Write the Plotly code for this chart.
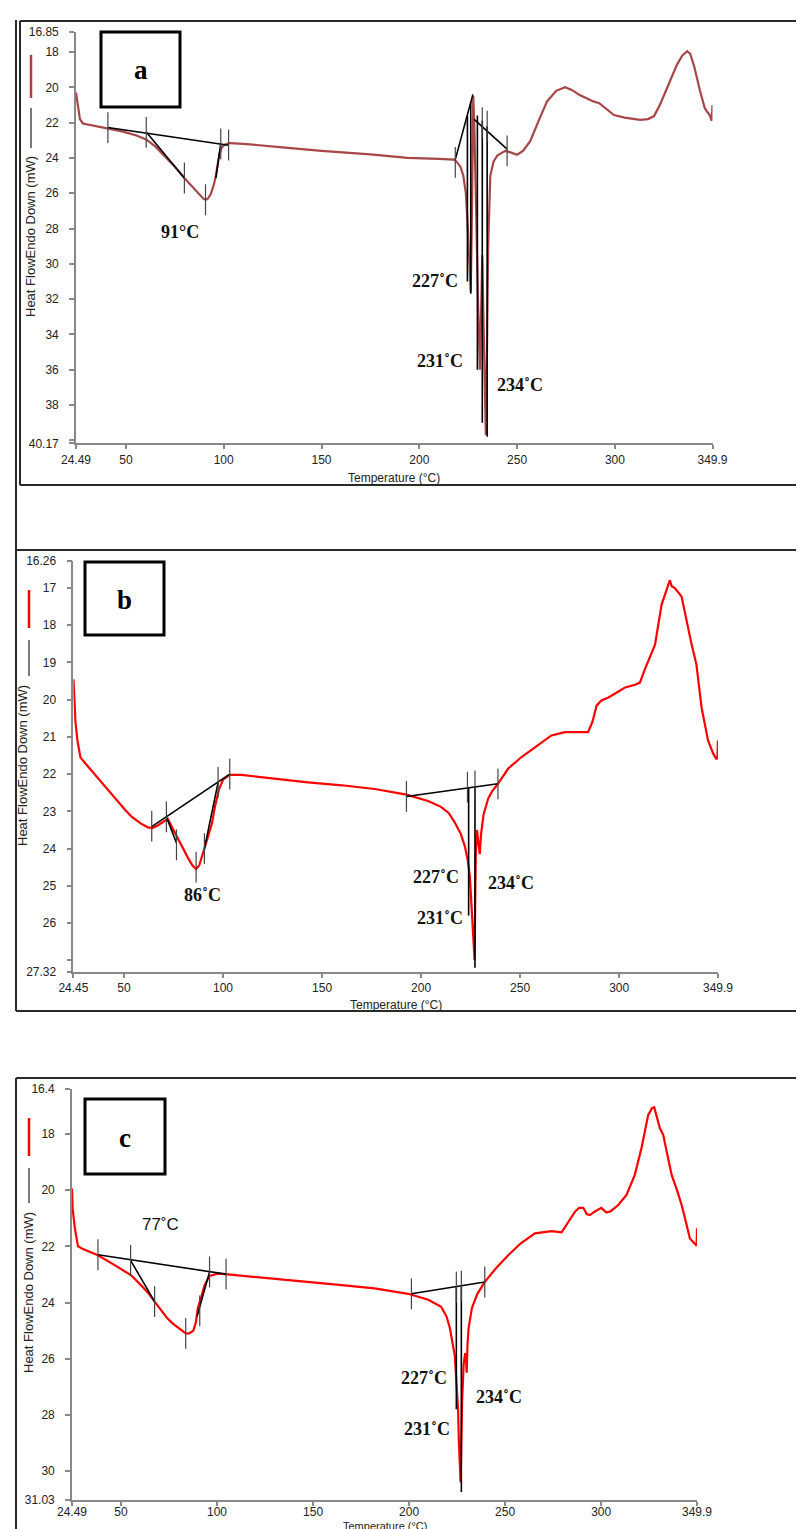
import plotly.graph_objects as go

W, H = 804, 1529

# ---------------- data ----------------
# Panel a
a_T = [24.49, 25.5, 26.5, 28.0, 31.0, 35.0, 40.8, 48.0, 55.0, 60.4, 65.0, 69.9, 75.0, 80.0, 84.0, 87.0,
       89.5, 90.7, 92.0, 93.4, 95.0, 96.0, 97.0, 97.8, 99.0, 100.5, 103.0, 110.0, 130.0, 150.0, 175.0,
       194.0, 210.0, 217.7, 219.0, 221.0, 222.5, 223.8, 224.6, 225.5, 226.3, 226.8, 227.2, 227.6, 228.2,
       229.0, 230.0, 231.0, 231.6, 232.2, 232.8, 233.5, 234.0, 234.6, 235.2, 236.3, 238.0, 240.0, 244.0,
       247.0, 250.0, 253.0, 256.7, 261.0, 265.3, 270.0, 274.5, 278.0, 282.0, 286.0, 289.0, 292.0, 294.4,
       297.0, 299.5, 305.0, 312.9, 317.0, 320.0, 323.0, 326.7, 330.0, 331.8, 334.5, 337.0, 338.5, 340.5,
       343.5, 346.0, 348.6, 349.5, 349.9]
a_v = [20.3, 21.2, 21.8, 22.05, 22.12, 22.2, 22.32, 22.5, 22.72, 22.95, 23.35, 23.9, 24.5, 25.15, 25.65, 26.05,
       26.3, 26.37, 26.3, 26.05, 25.5, 25.0, 24.3, 23.8, 23.4, 23.25, 23.16, 23.2, 23.4, 23.6, 23.8,
       24.0, 24.05, 24.1, 24.2, 24.5, 25.0, 26.0, 27.5, 30.0, 31.6, 28.0, 22.0, 20.5, 22.5,
       27.0, 32.0, 36.0, 32.0, 29.5, 33.0, 37.5, 39.7, 35.0, 29.0, 25.0, 24.2, 23.85, 23.6,
       23.7, 23.82, 23.6, 23.05, 21.9, 20.8, 20.2, 20.0, 20.15, 20.44, 20.65, 20.8, 20.9, 21.1,
       21.35, 21.57, 21.72, 21.85, 21.8, 21.63, 21.0, 20.04, 19.2, 18.7, 18.2, 17.95, 18.1, 18.8,
       20.2, 21.2, 21.6, 21.9, 21.0]
a_seg_T = [[40.8, 102.5], [60.4, 79.9], [98.5, 96.0], [218.4, 227.4], [227.9, 244.9],
           [224.6, 224.6], [226.3, 226.3], [229.7, 229.7], [232.2, 232.2], [234.7, 234.7]]
a_seg_v = [[22.28, 23.28], [22.53, 25.14], [23.17, 25.15], [24.1, 20.4], [21.8, 23.5],
           [21.6, 31.0], [20.8, 31.7], [21.6, 36.0], [21.9, 39.0], [22.2, 39.8]]
a_tick_T = [40.8, 60.4, 79.9, 90.7, 98.5, 102.5, 218.4, 232.2, 234.7, 244.9]
a_tick_v = [22.28, 22.55, 25.14, 26.37, 23.2, 23.28, 24.25, 22.0, 22.2, 23.6]
a_yticks = [16.85, 18, 20, 22, 24, 26, 28, 30, 32, 34, 36, 38, 40, 40.17]
a_ylabels = ["16.85", "18", "20", "22", "24", "26", "28", "30", "32", "34", "36", "38", "", "40.17"]
a_xticks = [24.49, 50, 100, 150, 200, 250, 300, 349.9]
a_xlabels = ["24.49", "50", "100", "150", "200", "250", "300", "349.9"]
a_peaks = ["91°C", "227˚C", "231˚C", "234˚C"]

# Panel b
b_T = [24.5, 24.8, 25.5, 26.5, 28.0, 29.5, 33.5, 38.0, 42.0, 46.0, 50.4, 54.0, 58.6, 62.0, 64.3, 67.0,
       69.5, 72.1, 74.0, 77.3, 80.0, 82.3, 84.5, 86.4, 88.0, 90.4, 92.5, 94.3, 96.0, 98.0, 100.0, 103.4,
       109.2, 125.0, 142.9, 160.0, 176.6, 192.6, 203.5, 210.0, 214.0, 217.0, 220.0, 222.1, 223.5, 224.6,
       225.4, 226.2, 226.7, 227.0, 227.3, 227.6, 228.2, 229.0, 229.6, 230.3, 231.5, 233.9, 236.0, 238.8,
       244.0, 250.7, 258.0, 265.8, 272.6, 280.0, 284.3, 286.5, 288.6, 291.0, 294.6, 299.0, 303.0, 308.0,
       310.5, 313.0, 318.1, 321.4, 323.5, 325.6, 326.5, 328.1, 331.5, 334.0, 336.5, 339.0, 341.6, 344.9,
       347.5, 349.1, 349.6, 349.9]
b_v = [19.45, 20.0, 20.6, 21.1, 21.55, 21.65, 21.9, 22.2, 22.42, 22.7, 22.95, 23.15, 23.33, 23.43, 23.45, 23.38,
       23.3, 23.2, 23.4, 23.75, 24.05, 24.25, 24.45, 24.55, 24.45, 24.05, 23.7, 23.35, 22.85, 22.4, 22.15, 22.02,
       22.02, 22.12, 22.22, 22.3, 22.4, 22.55, 22.72, 22.88, 23.05, 23.3, 23.6, 23.94, 24.3, 24.74,
       25.6, 26.5, 26.9, 27.0, 25.5, 24.2, 23.5, 23.9, 24.15, 23.6, 23.1, 22.65, 22.45, 22.26,
       21.85, 21.54, 21.25, 20.96, 20.87, 20.88, 20.87, 20.6, 20.16, 20.02, 19.94, 19.8, 19.67, 19.6,
       19.54, 19.18, 18.52, 17.45, 17.1, 16.79, 16.95, 17.0, 17.23, 17.9, 18.5, 19.05, 20.21, 21.1,
       21.45, 21.6, 21.54, 21.1]
b_seg_T = [[63.8, 103.4], [71.4, 76.5], [97.5, 90.6], [192.6, 238.8], [224.0, 224.0], [227.2, 227.2]]
b_seg_v = [[23.42, 22.0], [23.15, 23.85], [22.22, 24.0], [22.6, 22.26], [22.35, 25.8], [22.32, 27.2]]
b_tick_T = [64.0, 71.4, 76.5, 86.4, 90.6, 97.5, 103.4, 192.6, 223.4, 227.2, 238.8]
b_tick_v = [23.4, 23.15, 23.9, 24.5, 24.0, 22.22, 22.0, 22.6, 22.35, 22.32, 22.26]
b_yticks = [16.26, 17, 18, 19, 20, 21, 22, 23, 24, 25, 26, 27, 27.32]
b_ylabels = ["16.26", "17", "18", "19", "20", "21", "22", "23", "24", "25", "26", "", "27.32"]
b_xticks = [24.45, 50, 100, 150, 200, 250, 300, 349.9]
b_xlabels = ["24.45", "50", "100", "150", "200", "250", "300", "349.9"]
b_peaks = ["86˚C", "227˚C", "231˚C", "234˚C"]

# Panel c
c_T = [24.49, 24.8, 26.0, 27.6, 30.2, 38.0, 46.7, 55.3, 60.5, 64.0, 67.5, 71.0, 74.0, 77.0, 80.5, 83.7,
       85.5, 87.7, 89.0, 90.0, 91.8, 93.5, 96.1, 100.4, 105.6, 125.0, 147.3, 165.0, 182.0, 199.5, 210.0,
       216.7, 219.5, 221.2, 223.8, 224.7, 225.5, 225.9, 226.3, 226.8, 227.2, 227.6, 228.4, 229.2, 229.6,
       230.0, 230.4, 231.0, 232.7, 235.5, 239.4, 245.0, 251.6, 258.0, 265.5, 274.2, 279.4, 283.0, 286.4,
       288.5, 290.7, 292.5, 294.1, 297.0, 300.1, 302.7, 305.0, 308.9, 313.2, 317.5, 321.0, 324.5, 326.5,
       327.6, 329.0, 330.6, 332.3, 334.5, 336.7, 339.5, 341.9, 344.0, 346.2, 349.7, 349.9]
c_v = [19.94, 20.65, 21.36, 22.0, 22.1, 22.32, 22.67, 23.03, 23.39, 23.65, 23.97, 24.3, 24.55, 24.75, 24.95, 25.1,
       25.1, 25.0, 24.7, 24.2, 23.8, 23.39, 23.05, 22.97, 23.0, 23.12, 23.26, 23.38, 23.5, 23.69, 23.9,
       24.15, 24.5, 24.9, 25.9, 26.96, 27.8, 28.9, 29.9, 30.4, 29.0, 27.5, 26.2, 25.8, 26.0,
       26.5, 25.5, 24.9, 24.2, 23.7, 23.27, 22.8, 22.32, 21.9, 21.54, 21.46, 21.5, 21.1, 20.77,
       20.63, 20.63, 20.85, 20.89, 20.75, 20.63, 20.8, 20.75, 20.53, 20.17, 19.46, 18.5, 17.32, 17.08,
       17.05, 17.4, 17.8, 18.03, 18.8, 19.46, 20.0, 20.53, 21.1, 21.72, 21.98, 21.36]
c_seg_T = [[38.0, 104.7], [55.0, 67.5], [96.1, 89.6], [201.2, 239.4], [224.6, 224.6], [227.2, 227.2]]
c_seg_v = [[22.3, 22.99], [22.5, 23.97], [22.91, 24.5], [23.69, 23.27], [23.45, 27.8], [23.42, 30.75]]
c_tick_T = [38.0, 55.0, 67.5, 83.7, 91.0, 96.1, 104.7, 201.2, 224.6, 227.2, 239.4]
c_tick_v = [22.3, 22.5, 23.97, 25.1, 24.3, 22.91, 22.99, 23.69, 23.45, 23.42, 23.27]
c_yticks = [16.4, 18, 20, 22, 24, 26, 28, 30, 31.03]
c_ylabels = ["16.4", "18", "20", "22", "24", "26", "28", "30", "31.03"]
c_xticks = [24.49, 50, 100, 150, 200, 250, 300, 349.9]
c_xlabels = ["24.49", "50", "100", "150", "200", "250", "300", "349.9"]
c_peaks = ["77˚C", "227˚C", "231˚C", "234˚C"]

panel_letters = ["a", "b", "c"]
y_title = "Heat FlowEndo Down (mW)"
x_title = "Temperature (°C)"

# ---------------- layout helpers (pixel -> paper) ----------------
def px(x):
    return x / W

def py(y):
    return 1 - y / H

panels = [
    dict(T=a_T, v=a_v, segT=a_seg_T, segv=a_seg_v, tT=a_tick_T, tv=a_tick_v,
         yt=a_yticks, yl=a_ylabels, xt=a_xticks, xl=a_xlabels, peaks=a_peaks,
         xr=[24.49, 349.9], yr=[40.17, 16.85], dom_x=(68, 704.5), dom_y=(23.7, 435.3),
         color="#a84646", width=2.2,
         box=(93, 24, 172, 99), legend_x=23, red_seg=(47, 90), blk_seg=(100, 140),
         ytitle=(23, 229), xtitle=(386, 470), xtsize=12, xstand=0,
         peak_pos=[(172, 224), (427, 273), (432, 353), (512, 377)],
         peak_font=["Liberation Serif"] * 4),
    dict(T=b_T, v=b_v, segT=b_seg_T, segv=b_seg_v, tT=b_tick_T, tv=b_tick_v,
         yt=b_yticks, yl=b_ylabels, xt=b_xticks, xl=b_xlabels, peaks=b_peaks,
         xr=[24.45, 349.9], yr=[27.32, 16.26], dom_x=(65.4, 710), dom_y=(552.5, 964.1),
         color="#ff0000", width=2.2,
         box=(77, 554, 156, 627), legend_x=21, red_seg=(582, 620), blk_seg=(632, 668),
         ytitle=(15, 758), xtitle=(388, 997), xtsize=12, xstand=0,
         peak_pos=[(194, 887), (428, 869), (432, 910), (503, 875)],
         peak_font=["Liberation Serif"] * 4),
    dict(T=c_T, v=c_v, segT=c_seg_T, segv=c_seg_v, tT=c_tick_T, tv=c_tick_v,
         yt=c_yticks, yl=c_ylabels, xt=c_xticks, xl=c_xlabels, peaks=c_peaks,
         xr=[24.49, 349.9], yr=[31.03, 16.4], dom_x=(64, 689), dom_y=(1081, 1492),
         color="#ff0000", width=2.2,
         box=(77, 1091, 157, 1166), legend_x=21, red_seg=(1110, 1148), blk_seg=(1160, 1195),
         ytitle=(20, 1285), xtitle=(377, 1518), xtsize=11, xstand=-4,
         peak_pos=[(152, 1216), (416, 1370), (419, 1421), (491, 1389)],
         peak_font=["Liberation Sans"] + ["Liberation Serif"] * 3),
]

fig = go.Figure()
shapes = []
annotations = []
layout_axes = {}

for i, p in enumerate(panels):
    n = "" if i == 0 else str(i + 1)
    xa, ya = "x" + n, "y" + n
    # main curve
    fig.add_trace(go.Scatter(x=p["T"], y=p["v"], mode="lines", xaxis=xa, yaxis=ya,
                             line=dict(color=p["color"], width=p["width"]), hoverinfo="skip"))
    # construction lines
    sx, sy = [], []
    for tt, vv in zip(p["segT"], p["segv"]):
        sx += tt + [None]
        sy += vv + [None]
    fig.add_trace(go.Scatter(x=sx, y=sy, mode="lines", xaxis=xa, yaxis=ya,
                             line=dict(color="black", width=1.6), hoverinfo="skip"))
    # little vertical markers
    fig.add_trace(go.Scatter(x=p["tT"], y=p["tv"], mode="markers", xaxis=xa, yaxis=ya,
                             marker=dict(symbol="line-ns", size=22,
                                         line=dict(color="#444444", width=1.2)),
                             hoverinfo="skip"))

    axfont = dict(family="Liberation Sans, Arial", size=12, color="#222222")
    layout_axes["xaxis" + n] = dict(
        domain=[px(p["dom_x"][0]), px(p["dom_x"][1])], range=p["xr"], anchor=ya,
        tickvals=p["xt"], ticktext=p["xl"], ticks="outside", ticklen=4, tickwidth=1.5,
        tickcolor="#888888", showline=True, linecolor="#888888", linewidth=1.6,
        showgrid=False, zeroline=False, tickfont=axfont, automargin=False,
        ticklabelstandoff=p["xstand"])
    layout_axes["yaxis" + n] = dict(
        domain=[py(p["dom_y"][1]), py(p["dom_y"][0])], range=p["yr"], anchor=xa,
        tickvals=p["yt"], ticktext=p["yl"], ticks="outside", ticklen=5, tickwidth=1.5,
        tickcolor="#888888", showline=True, linecolor="#888888", linewidth=1.6,
        showgrid=False, zeroline=False, tickfont=axfont, ticklabelstandoff=8,
        automargin=False)

    # panel letter box
    bx0, by0, bx1, by1 = p["box"]
    shapes.append(dict(type="rect", xref="paper", yref="paper", x0=px(bx0), x1=px(bx1),
                       y0=py(by1), y1=py(by0), line=dict(color="black", width=3)))
    annotations.append(dict(xref="paper", yref="paper", x=px((bx0 + bx1) / 2), y=py((by0 + by1) / 2 + 1),
                            text="<b>%s</b>" % panel_letters[i], showarrow=False,
                            xanchor="center", yanchor="middle",
                            font=dict(family="Liberation Serif", size=27, color="black")))
    # legend dashes next to y title
    lx = p["legend_x"]
    shapes.append(dict(type="line", xref="paper", yref="paper", x0=px(lx), x1=px(lx),
                       y0=py(p["red_seg"][0]), y1=py(p["red_seg"][1]),
                       line=dict(color=p["color"], width=2.5)))
    shapes.append(dict(type="line", xref="paper", yref="paper", x0=px(lx), x1=px(lx),
                       y0=py(p["blk_seg"][0]), y1=py(p["blk_seg"][1]),
                       line=dict(color="#222222", width=1.2)))
    # axis titles
    annotations.append(dict(xref="paper", yref="paper", x=px(p["ytitle"][0]), y=py(p["ytitle"][1]),
                            text=y_title, textangle=-90, showarrow=False,
                            xanchor="center", yanchor="middle",
                            font=dict(family="Liberation Sans, Arial", size=13, color="#222222")))
    annotations.append(dict(xref="paper", yref="paper", x=px(p["xtitle"][0]), y=py(p["xtitle"][1]),
                            text=x_title, showarrow=False, xanchor="center", yanchor="middle",
                            borderpad=0,
                            font=dict(family="Liberation Sans, Arial", size=p["xtsize"],
                                      color="#222222")))
    # peak labels
    for txt, (tx, ty), fam in zip(p["peaks"], p["peak_pos"], p["peak_font"]):
        t = txt if fam == "Liberation Sans" else "<b>%s</b>" % txt
        annotations.append(dict(xref="paper", yref="paper", x=px(tx), y=py(ty), text=t,
                                showarrow=False, xanchor="center", yanchor="middle",
                                font=dict(family=fam, size=18 if fam != "Liberation Sans" else 17,
                                          color="#111111")))

# frame lines around the panels
frame = [
    (12, 13, 806, 13), (12, 13, 12, 477), (12, 477, 806, 477), (8, 12, 8, 542),
    (8, 542, 806, 542), (8, 542, 8, 1003), (8, 1003, 806, 1003),
    (8, 1070, 806, 1070), (8, 1070, 8, 1532),
]
for x0, y0, x1, y1 in frame:
    shapes.append(dict(type="line", xref="paper", yref="paper", x0=px(x0), x1=px(x1),
                       y0=py(y0), y1=py(y1), line=dict(color="#2a2a2a", width=2)))

fig.update_layout(width=W, height=H, autosize=False, margin=dict(l=0, r=0, t=0, b=0, pad=0),
                  paper_bgcolor="white", plot_bgcolor="white", showlegend=False,
                  shapes=shapes, annotations=annotations, **layout_axes)

fig.write_html("out.html")
